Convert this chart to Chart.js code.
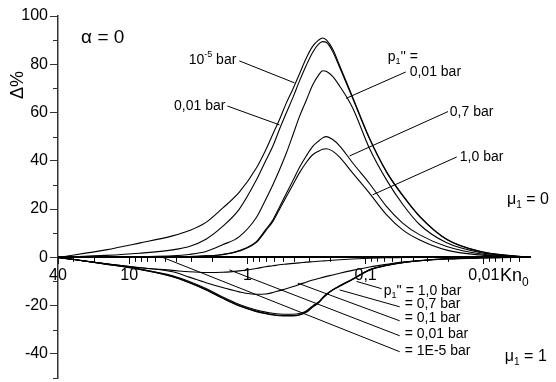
<!DOCTYPE html>
<html><head><meta charset="utf-8">
<script src="https://cdn.jsdelivr.net/npm/chart.js@4/dist/chart.umd.min.js"></script>
<style>html,body{margin:0;padding:0;background:#fff}</style>
</head><body>
<canvas id="c" width="556" height="382"></canvas>
<script>
// ---- data (Kn0 on a reversed log axis, Δ% values) ----
const knValues = [40, 15.7, 8.2, 4.3, 3.1, 2.24, 1.62, 1.17, 0.84, 0.7, 0.61, 0.536, 0.47, 0.41, 0.363, 0.318, 0.28, 0.25, 0.231, 0.214, 0.19, 0.166, 0.129, 0.0925, 0.0664, 0.0486, 0.0348, 0.0206, 0.0108, 0.0057, 0.004];

// mu1 = 0 family
const muZero_1e5bar  = [0, 3.1, 5.9, 8.9, 11.1, 14.5, 20.4, 27, 37, 44.5, 51, 57, 63.8, 70, 76, 82.5, 87.5, 90, 90.9, 90, 86.3, 79.5, 66.5, 49.3, 35.5, 25.8, 17, 7.5, 2.5, 0.6, 0.1];
const muZero_001barL = [0, 0.8, 1.7, 3.1, 4.5, 7.5, 12.8, 20, 32, 40, 46, 53, 59.7, 66.5, 73, 79.5, 85, 88.3, 89.4, 89, 85.3, 78.8, 66, 49, 35.2, 25.5, 16.8, 7.4, 2.4, 0.6, 0.1];
const muZero_001barR = [0, 0.1, 0.3, 0.6, 1.2, 2.4, 5.2, 8.6, 16.5, 24, 30, 36.2, 43, 51, 58.3, 65, 71.5, 75.5, 77.3, 77, 75, 71, 62, 45, 32, 22, 13.5, 6, 2, 0.5, 0.1];
const muZero_07bar   = [0, 0, 0.1, 0.2, 0.3, 0.6, 1.2, 2.8, 6.5, 11.5, 15.5, 20.8, 26.3, 32, 37.2, 42, 46, 48.2, 49.5, 50, 48.8, 46.2, 39.2, 30.5, 21, 14.2, 9.3, 4.5, 1.5, 0.4, 0.1];
const muZero_10bar   = [0, 0, 0.1, 0.2, 0.3, 0.6, 1.1, 2.6, 6.2, 11, 14.8, 19.8, 25, 30.3, 35, 39.3, 42.5, 44, 44.8, 45, 44, 41.5, 35, 26.5, 17.6, 11.4, 7.2, 3, 1, 0.3, 0.1];

// mu1 = 1 family
const muOne_10bar  = [0, -2.7, -4.3, -5.4, -6, -6.3, -6.2, -5.6, -4.6, -3.9, -3.5, -3.1, -2.8, -2.5, -2.3, -2, -1.8, -1.6, -1.5, -1.4, -1.2, -1, -0.7, -0.4, -0.2, -0.1, 0, 0, 0, 0, 0];
const muOne_07bar  = [0, -2.7, -4.2, -6, -8.2, -10.5, -12.5, -14.3, -15.3, -15.2, -14.6, -13.8, -13, -12.1, -11.2, -10.3, -9.4, -8.8, -8.3, -7.9, -7.3, -6.6, -5.4, -4, -2.9, -2, -1.4, -0.7, -0.3, -0.1, 0];
const muOne_01bar  = [0, -2.7, -4.8, -7.6, -10, -12.9, -16.4, -19.5, -21.8, -22.7, -23.2, -23.5, -23.6, -23.6, -23.3, -22.2, -20.1, -18.5, -16.7, -15.2, -13.4, -11.8, -9, -5.1, -3.3, -2.1, -1.3, -0.6, -0.2, -0.05, 0];
const muOne_001bar = [0, -2.8, -4.9, -7.9, -10.4, -13.3, -16.8, -20, -22.3, -23.2, -23.7, -24, -24.1, -24.1, -23.8, -22.6, -20.4, -18.7, -16.9, -15.4, -13.5, -11.9, -9.1, -5.2, -3.4, -2.2, -1.4, -0.6, -0.2, -0.05, 0];
const muOne_1e5bar = [0, -2.8, -5, -8, -10.5, -13.5, -17, -20.2, -22.5, -23.4, -23.9, -24.2, -24.3, -24.3, -23.9, -22.8, -20.6, -18.9, -17, -15.5, -13.6, -12, -9.2, -5.2, -3.4, -2.2, -1.4, -0.6, -0.2, -0.05, 0];

// axes
const xMajorTicks = [40, 10, 1, 0.1, 0.01];
const xTickLabels = ['40', '10', '1', '0,1', '0,01'];
const xMinorTicks = [30, 20, 9, 8, 7, 6, 5, 4, 3, 2, 0.9, 0.8, 0.7, 0.6, 0.5, 0.4, 0.3, 0.2, 0.09, 0.08, 0.07, 0.06, 0.05, 0.04, 0.03, 0.02, 0.009, 0.008, 0.007, 0.006, 0.005];
const yMajorTicks = [-40, -20, 0, 20, 40, 60, 80, 100];
const yMinorTicks = [-50, -30, -10, 10, 30, 50, 70, 90];

// leader lines (annotation anchors, in Kn / Δ% units)
const leaderLines = [
  [[1.17, 81.4], [0.40, 72.3]],
  [[1.477, 62.7], [0.536, 54.9]],
  [[0.0458, 76.8], [0.146, 65.9]],
  [[0.0201, 60.4], [0.1367, 42.0]],
  [[0.01694, 41.6], [0.0872, 25.9]],
  [[0.119, -10.0], [0.0732, -13.0]],
  [[0.166, -13.5], [0.0515, -20.5]],
  [[0.375, -10.7], [0.0515, -26.3]],
  [[1.42, -5.2], [0.0515, -32.5]],
  [[5.22, 0], [0.0515, -39.1]]
];

// text annotations
const notes = [
  {parts: [['α = 0', 0]], kn: 25.5, v: 90.9, align: 'left', size: 19},
  {parts: [['10', 0], ['-5', 2], [' bar', 0]], kn: 1.24, v: 81.8, align: 'right', size: 14},
  {parts: [['0,01 bar', 0]], kn: 1.536, v: 62.7, align: 'right', size: 14},
  {parts: [['p', 0], ['1', 1], ["'' =", 0]], kn: 0.0651, v: 83.0, align: 'left', size: 14},
  {parts: [['0,01 bar', 0]], kn: 0.0424, v: 76.8, align: 'left', size: 14},
  {parts: [['0,7 bar', 0]], kn: 0.0194, v: 60.2, align: 'left', size: 14},
  {parts: [['1,0 bar', 0]], kn: 0.01597, v: 41.6, align: 'left', size: 14},
  {parts: [['μ', 0], ['1', 1], [' = 0', 0]], kn: 0.00638, v: 23.8, align: 'left', size: 16},
  {parts: [['Kn', 0], ['0', 1]], kn: 0.00731, v: -7.7, align: 'left', size: 18},
  {parts: [['p', 0], ['1', 1], ["'' = 1,0 bar", 0]], kn: 0.0704, v: -13.9, align: 'left', size: 14},
  {parts: [['= 0,7 bar', 0]], kn: 0.0467, v: -19.3, align: 'left', size: 14},
  {parts: [['= 0,1 bar', 0]], kn: 0.0467, v: -25.1, align: 'left', size: 14},
  {parts: [['= 0,01 bar', 0]], kn: 0.0467, v: -31.7, align: 'left', size: 14},
  {parts: [['= 1E-5 bar', 0]], kn: 0.0467, v: -38.7, align: 'left', size: 14},
  {parts: [['μ', 0], ['1', 1], [' = 1', 0]], kn: 0.00664, v: -41.2, align: 'left', size: 16}
];

const FAM = "'Liberation Sans', Arial, Helvetica, sans-serif";
const NARROW = "'Liberation Sans Narrow', 'Arial Narrow', 'Liberation Sans', Arial, sans-serif";

function pts(vals) { return knValues.map((k, i) => ({x: k, y: vals[i]})); }
const curveSeries = [muZero_1e5bar, muZero_001barL, muZero_001barR, muZero_07bar, muZero_10bar,
                     muOne_10bar, muOne_07bar, muOne_01bar, muOne_001bar, muOne_1e5bar];
const datasets = curveSeries.map(s => ({
  data: pts(s), borderColor: '#000', borderWidth: 1.1, pointRadius: 0,
  fill: false, cubicInterpolationMode: 'monotone'
}));
leaderLines.forEach(l => datasets.push({
  data: l.map(p => ({x: p[0], y: p[1]})), borderColor: '#000', borderWidth: 1,
  pointRadius: 0, fill: false, tension: 0
}));

function rich(ctx, parts, x, y, align, size) {
  let w = 0; const ws = [];
  parts.forEach(([t, m]) => {
    ctx.font = (m ? Math.round(size * 0.65) : size) + 'px ' + FAM;
    const ww = ctx.measureText(t).width; ws.push(ww); w += ww;
  });
  let cx = align === 'right' ? x - w : (align === 'center' ? x - w / 2 : x);
  ctx.textBaseline = 'middle'; ctx.textAlign = 'left'; ctx.fillStyle = '#000';
  parts.forEach(([t, m], i) => {
    ctx.font = (m ? Math.round(size * 0.65) : size) + 'px ' + FAM;
    const dy = m === 1 ? size * 0.35 : (m === 2 ? -size * 0.38 : 0);
    ctx.fillText(t, cx, y + dy);
    cx += ws[i];
  });
}

const decor = {
  id: 'decor',
  afterDraw(chart) {
    const ctx = chart.ctx, xs = chart.scales.x, ys = chart.scales.y, ca = chart.chartArea;
    ctx.save();
    ctx.strokeStyle = '#000'; ctx.lineWidth = 1;
    const y0 = ys.getPixelForValue(0);
    xMinorTicks.forEach(v => {
      const px = Math.round(xs.getPixelForValue(v)) + 0.5;
      ctx.beginPath(); ctx.moveTo(px, y0); ctx.lineTo(px, y0 + 4.5); ctx.stroke();
    });
    ctx.strokeStyle = '#333';
    yMinorTicks.forEach(v => {
      const py = Math.round(ys.getPixelForValue(v)) + 0.5;
      ctx.beginPath(); ctx.moveTo(ca.left - 5, py); ctx.lineTo(ca.left, py); ctx.stroke();
    });
    notes.forEach(n => rich(ctx, n.parts, xs.getPixelForValue(n.kn), ys.getPixelForValue(n.v), n.align, n.size));
    // axis title
    ctx.save();
    ctx.translate(ca.left - 40, ys.getPixelForValue(71.4));
    ctx.rotate(-Math.PI / 2);
    ctx.font = '18px ' + FAM; ctx.textAlign = 'center'; ctx.textBaseline = 'middle'; ctx.fillStyle = '#000';
    ctx.fillText('Δ%', 0, 0);
    ctx.restore();
    ctx.restore();
  }
};

new Chart(document.getElementById('c'), {
  type: 'line',
  data: {datasets},
  plugins: [decor],
  options: {
    responsive: false, animation: false, devicePixelRatio: 1,
    layout: {padding: {left: 0, top: 16, right: 26, bottom: 4}},
    plugins: {legend: {display: false}, tooltip: {enabled: false}},
    scales: {
      x: {
        type: 'logarithmic', reverse: true, min: 0.00407, max: 40,
        position: {y: 0},
        afterBuildTicks: ax => { ax.ticks = xMajorTicks.map(v => ({value: v})); },
        ticks: {
          autoSkip: false, maxRotation: 0, padding: 3, color: '#000',
          font: {family: NARROW, size: 16},
          callback: (v) => { const i = xMajorTicks.indexOf(v); return i >= 0 ? xTickLabels[i] : ''; }
        },
        grid: {drawOnChartArea: false, drawTicks: true, tickLength: 6, color: '#000'},
        border: {display: true, color: '#000', width: 2}
      },
      y: {
        type: 'linear', min: -50, max: 100,
        afterBuildTicks: ax => { ax.ticks = yMajorTicks.map(v => ({value: v})); },
        afterFit: sc => { sc.width = 58; sc.paddingTop = 0; sc.paddingBottom = 0; },
        ticks: {padding: 2, color: '#000', font: {family: NARROW, size: 16}, callback: v => String(v)},
        grid: {drawOnChartArea: false, drawTicks: true, tickLength: 8, color: '#333'},
        border: {display: true, color: '#333', width: 1.5}
      }
    }
  }
});
</script>
</body></html>
